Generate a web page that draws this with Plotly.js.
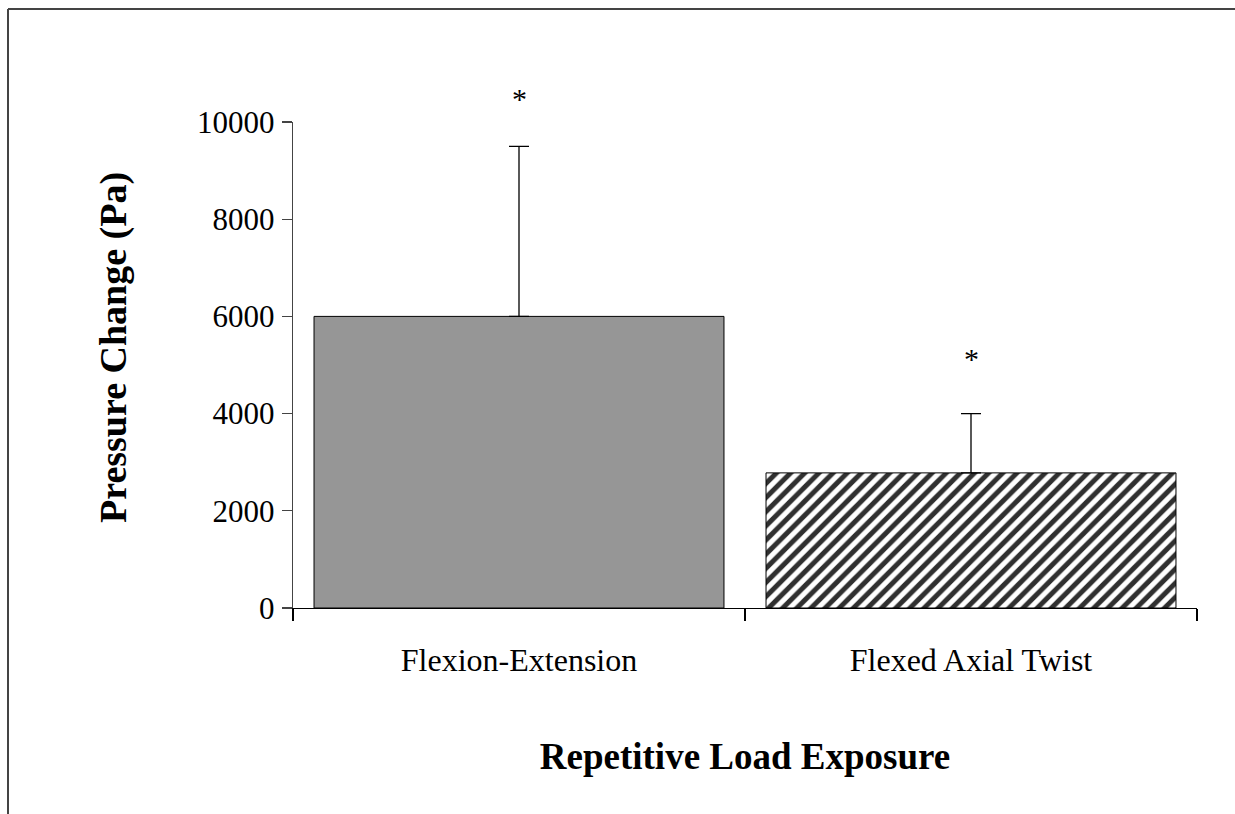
<!DOCTYPE html>
<html>
<head>
<meta charset="utf-8">
<script src="https://cdn.plot.ly/plotly-3.0.1.min.js"></script>
<style>
  html, body { margin: 0; padding: 0; background: #fff; }
  #chart { width: 1235px; height: 814px; }
</style>
</head>
<body>
<div id="chart"></div>
<script>
// ---- data ----
const categories = ["Flexion-Extension", "Flexed Axial Twist"];
const meanValues = [6000, 2780];
const errorPlus = [3500, 1220];
const errorMinus = [0, 0];
const starLabels = ["*", "*"];
const starY = [10480, 5140];
const yRange = [0, 10000];
const yTickVals = [0, 2000, 4000, 6000, 8000, 10000];
const yTitle = "Pressure Change (Pa)";
const xTitle = "Repetitive Load Exposure";

const W = 1235, H = 814;
const M = { l: 293, r: 38, t: 122, b: 206 };
const plotW = W - M.l - M.r, plotH = H - M.t - M.b;
const px2x = px => (px - M.l) / plotW;
const py2y = py => (H - M.b - py) / plotH;

const serif = "'Liberation Serif', 'Times New Roman', serif";

// one trace per bar so that each gets its own fill style
const fills = [
  { color: '#969696', pattern: { shape: '' } },
  { color: '#ffffff', pattern: { shape: '/', fgcolor: '#303030', bgcolor: '#ffffff', fgopacity: 1, fillmode: 'overlay', size: 10, solidity: 0.5 } }
];

const barTraces = categories.map((c, i) => ({
  type: 'bar',
  x: [c],
  y: [meanValues[i]],
  marker: Object.assign({ line: { color: '#000000', width: 1 } }, fills[i]),
  error_y: {
    type: 'data', symmetric: false,
    array: [errorPlus[i]], arrayminus: [errorMinus[i]],
    color: '#000000', thickness: 1.3, width: 10
  },
  hoverinfo: 'x+y'
}));

// significance stars (placed in the y-axis domain so they may sit above the range)
const starAnnotations = categories.map((c, i) => ({
  xref: 'x', yref: 'y domain',
  x: c, y: (starY[i] - yRange[0]) / (yRange[1] - yRange[0]),
  text: starLabels[i], showarrow: false,
  xanchor: 'center', yanchor: 'middle',
  font: { family: serif, size: 30, color: '#000' }
}));

const layout = {
  width: W, height: H,
  margin: M,
  paper_bgcolor: 'rgba(0,0,0,0)',
  plot_bgcolor: 'rgba(0,0,0,0)',
  showlegend: false,
  barmode: 'overlay',
  bargap: 0.093,
  font: { family: serif, color: '#000' },
  xaxis: {
    type: 'category',
    showline: true, linecolor: '#000', linewidth: 1.3,
    ticks: 'outside', tickson: 'boundaries', ticklen: 12, tickcolor: '#000', tickwidth: 1.3,
    tickfont: { family: serif, size: 32, color: '#000' },
    ticklabelstandoff: 23,
    showgrid: false, zeroline: false,
    title: { text: xTitle, font: { family: serif, size: 37, color: '#000', weight: 'bold' }, standoff: 66 },
    automargin: false
  },
  yaxis: {
    range: yRange,
    tickvals: yTickVals,
    tickformat: 'd',
    showline: true, linecolor: '#444', linewidth: 1.3,
    ticks: 'outside', ticklen: 10, tickcolor: '#444', tickwidth: 1.3,
    tickfont: { family: serif, size: 31, color: '#000' },
    ticklabelstandoff: 1,
    showgrid: false, zeroline: false,
    automargin: false
  },
  annotations: starAnnotations.concat([{
    xref: 'paper', yref: 'paper',
    x: px2x(113), y: py2y(348),
    text: yTitle, textangle: -90, showarrow: false,
    xanchor: 'center', yanchor: 'middle',
    font: { family: serif, size: 38, color: '#000', weight: 'bold' }
  }]),
  shapes: [
    { type: 'line', xref: 'paper', yref: 'paper', x0: px2x(8), x1: px2x(8), y0: py2y(9), y1: py2y(H + 5), line: { color: '#444', width: 2 } },
    { type: 'line', xref: 'paper', yref: 'paper', x0: px2x(8), x1: px2x(W + 5), y0: py2y(9), y1: py2y(9), line: { color: '#444', width: 2 } }
  ]
};

Plotly.newPlot('chart', barTraces, layout, { displayModeBar: false, staticPlot: true });
</script>
</body>
</html>
